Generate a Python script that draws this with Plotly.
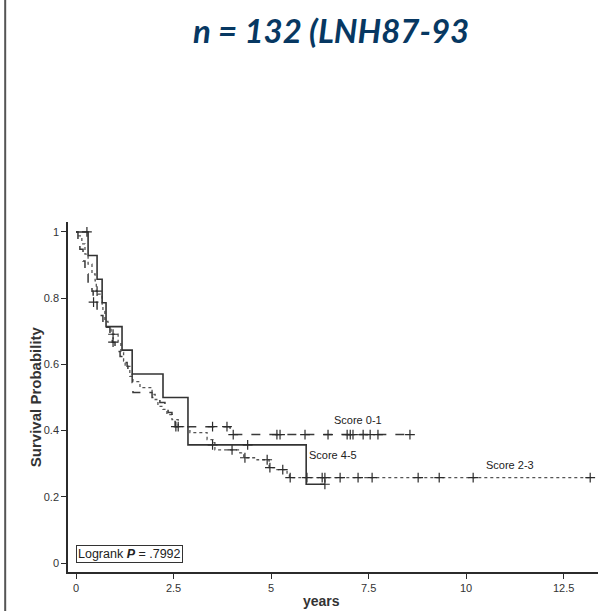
import numpy as np
import plotly.graph_objects as go

# Kaplan-Meier estimates: step times (years) and survival after each step
score01_t = [0, 0.05, 0.10, 0.18, 0.23, 0.31, 0.41, 0.44, 0.54, 0.62, 0.69, 0.79, 0.87, 0.93,
             1.00, 1.13, 1.21, 1.31, 1.33, 1.44, 1.46, 1.95, 2.08, 2.15, 2.28, 2.36, 2.46, 2.54, 3.95]
score01_s = [1.0, 0.973, 0.948, 0.912, 0.873, 0.842, 0.821, 0.788, 0.767, 0.748, 0.727, 0.712, 0.691, 0.667,
             0.639, 0.624, 0.606, 0.594, 0.576, 0.545, 0.515, 0.500, 0.494, 0.485, 0.470, 0.455, 0.433, 0.412, 0.388]
score01_cens = [0.45, 0.95, 2.56, 2.62, 3.50, 3.87, 4.03, 5.15, 5.23, 5.87, 6.46, 6.95, 7.03, 7.10,
                7.36, 7.54, 7.74, 8.56]

score23_t = [0, 0.05, 0.15, 0.23, 0.31, 0.41, 0.49, 0.52, 0.56, 0.67, 0.69, 0.74, 0.82, 0.90, 1.08,
             1.15, 1.22, 1.26, 1.38, 1.46, 1.64, 1.95, 2.03, 2.10, 2.23, 2.33, 2.46, 2.62, 2.92, 3.36,
             3.51, 3.56, 4.20, 4.30, 4.64, 4.95, 5.15, 5.41, 5.47]
score23_s = [1.0, 0.988, 0.964, 0.933, 0.903, 0.873, 0.852, 0.821, 0.812, 0.782, 0.761, 0.730, 0.712, 0.691, 0.667,
             0.636, 0.610, 0.594, 0.564, 0.548, 0.530, 0.509, 0.494, 0.473, 0.464, 0.448, 0.433, 0.412, 0.394, 0.373,
             0.364, 0.342, 0.333, 0.318, 0.312, 0.288, 0.282, 0.267, 0.258]
score23_cens = [0.54, 0.95, 4.00, 4.33, 4.90, 4.97, 5.30, 5.49, 5.92, 6.31, 6.38, 6.77, 7.23, 7.59,
                8.77, 9.31, 10.18, 13.18]

score45_t = [0, 0.31, 0.54, 0.67, 0.77, 1.18, 1.44, 2.23, 2.87, 5.90]
score45_s = [1.0, 0.929, 0.857, 0.786, 0.714, 0.643, 0.571, 0.500, 0.357, 0.238]
score45_cens = [0.28, 3.50, 4.40, 6.38]

x_ticks = [0, 2.5, 5, 7.5, 10, 12.5]
x_ticklabels = ["0", "2.5", "5", "7.5", "10", "12.5"]
y_ticks = [0, 0.2, 0.4, 0.6, 0.8, 1.0]
y_ticklabels = ["0", "0.2", "0.4", "0.6", "0.8", "1"]

title_text = "n = 132 (LNH87-93"
logrank_text = "Logrank <b><i>P</i></b> = .7992"

INK = "#2b2b2b"
FONT = "Liberation Sans, Arial, sans-serif"


def step_value(times, surv, t):
    idx = np.searchsorted(np.asarray(times), t, side="right") - 1
    return float(np.asarray(surv)[max(idx, 0)])


def km_trace(times, surv, cens, dash, width, color, name):
    end = max(max(times), max(cens))
    xs = list(times) + [end]
    ys = list(surv) + [surv[-1]]
    line = go.Scatter(x=xs, y=ys, mode="lines", line_shape="hv",
                      line=dict(color=color, width=width, dash=dash),
                      name=name, showlegend=False, hoverinfo="skip")
    marks = go.Scatter(x=list(cens), y=[step_value(times, surv, c) for c in cens],
                       mode="markers",
                       marker=dict(symbol="cross-thin", size=7,
                                   line=dict(color=INK, width=1.2)),
                       showlegend=False, hoverinfo="skip")
    return [line, marks]


fig = go.Figure()
for tr in km_trace(score23_t, score23_s, score23_cens, "dot", 1.3, "#555555", "Score 2-3"):
    fig.add_trace(tr)
for tr in km_trace(score01_t, score01_s, score01_cens, "dash", 1.5, "#3a3a3a", "Score 0-1"):
    fig.add_trace(tr)
for tr in km_trace(score45_t, score45_s, score45_cens, "solid", 1.6, "#333333", "Score 4-5"):
    fig.add_trace(tr)

# curve labels
for txt, x, y in [("Score 0-1", 7.23, 0.433), ("Score 4-5", 6.6, 0.327), ("Score 2-3", 11.13, 0.297)]:
    fig.add_annotation(x=x, y=y, text=txt, showarrow=False,
                       font=dict(family=FONT, size=11, color="#222222"))

# log-rank box
fig.add_annotation(x=0, y=0.0, xref="x", yref="y", xanchor="left", yanchor="bottom",
                   text=logrank_text, showarrow=False, bordercolor="#333333", borderwidth=1,
                   borderpad=1, bgcolor="white",
                   font=dict(family=FONT, size=12.5, color="#222222"))

# axis titles
fig.add_annotation(x=0.478, y=-0.083, xref="paper", yref="paper", xanchor="center", yanchor="middle",
                   text="<b>years</b>", showarrow=False,
                   font=dict(family=FONT, size=14, color="#333333"))
fig.add_annotation(x=-0.062, y=0.5, xref="paper", yref="paper", xanchor="center", yanchor="middle",
                   text="<b>Survival Probability</b>", textangle=-90, showarrow=False,
                   font=dict(family=FONT, size=15, color="#333333"))

# heading
fig.add_annotation(x=0.497, y=1.549, xref="paper", yref="paper", xanchor="center", yanchor="middle",
                   text="<b><i>" + title_text + "</i></b>", showarrow=False,
                   font=dict(family="Lato, Open Sans, sans-serif", size=33, color="#073862"))

# left frame rule
fig.add_shape(type="line", xref="paper", yref="paper", x0=-0.1185, x1=-0.1185, y0=-0.12, y1=1.64,
              line=dict(color="#555555", width=2))

fig.update_layout(
    width=606, height=611,
    margin=dict(l=68, r=8, t=222, b=39),
    paper_bgcolor="white", plot_bgcolor="white",
    xaxis=dict(range=[-0.205, 13.38], showgrid=False, zeroline=False, showline=True,
               linecolor=INK, linewidth=1.6, ticks="outside", ticklen=5, tickwidth=1.2, tickcolor=INK,
               tickvals=x_ticks, ticktext=x_ticklabels,
               tickfont=dict(family=FONT, size=11, color="#333333")),
    yaxis=dict(range=[-0.027, 1.03], showgrid=False, zeroline=False, showline=True,
               linecolor=INK, linewidth=1.6, ticks="outside", ticklen=5, tickwidth=1.2, tickcolor=INK,
               tickvals=y_ticks, ticktext=y_ticklabels,
               tickfont=dict(family=FONT, size=11, color="#333333")),
)

fig.write_html("out.html")
